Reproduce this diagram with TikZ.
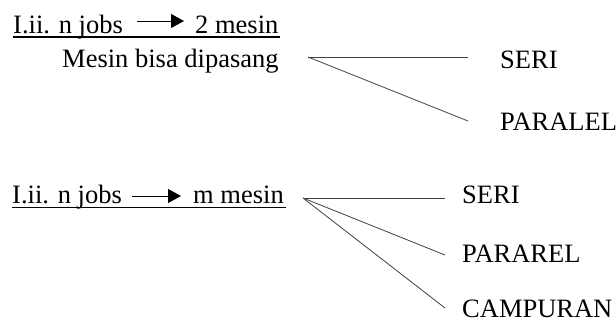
\documentclass[tikz,border=0pt]{standalone}
\usepackage{fontspec}
\setmainfont{Liberation Serif}
\usetikzlibrary{arrows.meta}
\tikzset{
  lbl/.style={anchor=base west, inner sep=0pt, font=\fontsize{26.5}{30}\selectfont, text=black},
  branch/.style={draw=black!75, line width=0.8pt},
  uline/.style={draw=black, line width=1.4pt},
  jobarrow/.style={draw=black, line width=1pt, -{Triangle[length=13pt,width=14pt]}}
}
\begin{document}
\begin{tikzpicture}[x=1pt,y=-1pt]
\useasboundingbox (0,0) rectangle (616,327);

% first case: two machines
\node[lbl] (t1) at (13,33) {I.ii. n jobs};
\node[lbl] (m1) at (195,33) {2 mesin};
\node[lbl] (d1) at (62,67) {Mesin bisa dipasang};
\coordinate (a1s) at (137,21);
\coordinate (a1e) at (184,21);
\draw[jobarrow] (a1s) -- (a1e);
\coordinate (u1s) at (13,37);
\coordinate (u1e) at (280,37);
\draw[uline] (u1s) -- (u1e);

\coordinate (h1) at (308,57);
\node[lbl] (seri1) at (500,68) {SERI};
\node[lbl] (par1) at (500,130) {PARALEL};
\coordinate (e11) at (468,57);
\coordinate (e12) at (468,121);
\draw[branch] (h1) -- (e11);
\draw[branch] (h1) -- (e12);

% second case: m machines
\node[lbl] (t2) at (12,203) {I.ii. n jobs};
\node[lbl] (m2) at (193,203) {m mesin};
\coordinate (a2s) at (132,196);
\coordinate (a2e) at (181,196);
\draw[jobarrow] (a2s) -- (a2e);
\coordinate (u2s) at (12,207.5);
\coordinate (u2e) at (286,207.5);
\draw[uline] (u2s) -- (u2e);

\coordinate (h2) at (303,198);
\node[lbl] (seri2) at (462,203) {SERI};
\node[lbl] (par2) at (462,262) {PARAREL};
\node[lbl] (camp2) at (462,317) {CAMPURAN};
\coordinate (e21) at (445,198);
\coordinate (e22) at (445,255);
\coordinate (e23) at (445,308);
\draw[branch] (h2) -- (e21);
\draw[branch] (h2) -- (e22);
\draw[branch] (h2) -- (e23);
\end{tikzpicture}
\end{document}
